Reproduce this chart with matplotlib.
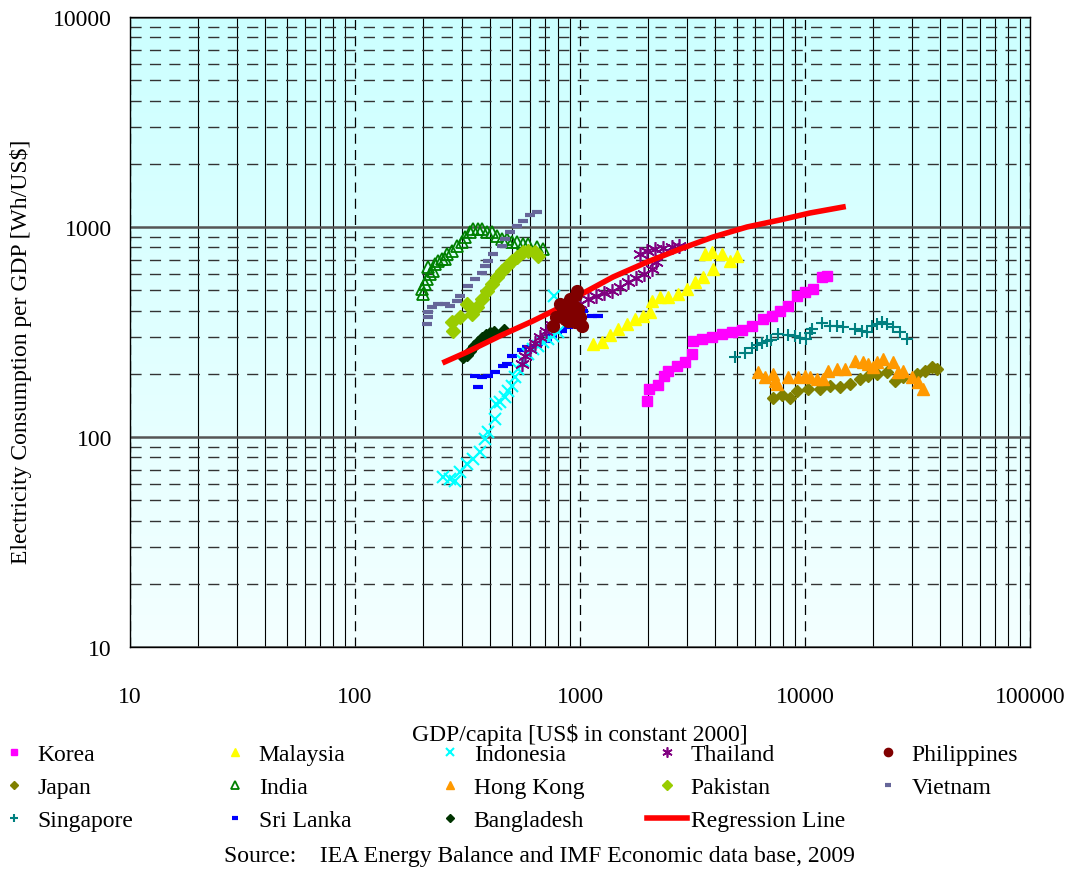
import matplotlib.pyplot as plt
import numpy as np
from matplotlib.colors import LinearSegmentedColormap
from matplotlib.ticker import LogLocator, NullFormatter, FixedLocator, FixedFormatter

plt.rcParams['font.family'] = ['Liberation Serif', 'DejaVu Serif']

# ---- data (GDP/capita, Wh/US$) ----
korea_x = [1990, 2030, 2220, 2360, 2460, 2700, 2930, 3150, 3180, 3490, 3860, 4280,
           4750, 5250, 5810, 6500, 7130, 7740, 8400, 9210, 10000, 10860, 11900, 12500]
korea_y = [148, 169, 177, 195, 206, 218, 228, 248, 286, 293, 299, 309,
           316, 323, 338, 365, 377, 398, 421, 469, 490, 507, 578, 585]

malaysia_x = [1140, 1250, 1360, 1480, 1620, 1760, 1900, 2050, 2090, 2270, 2460,
              2730, 2990, 3250, 3520, 3900, 3600, 3850, 4280, 4640, 4990]
malaysia_y = [277, 283, 306, 327, 345, 365, 377, 394, 444, 464, 464,
              480, 507, 548, 578, 631, 744, 760, 744, 689, 728]

indonesia_x = [246, 264, 278, 293, 315, 334, 359, 378, 390, 419, 425, 441, 464,
               479, 499, 514, 530, 558, 587, 618, 651, 685, 721, 759, 799, 766]
indonesia_y = [64.5, 63, 61.7, 68, 74, 78.5, 84.8, 97.8, 105.6, 122, 143.6, 147, 155,
               165, 175, 193, 211, 230, 248, 262, 271, 283, 293, 303, 316, 469]

thailand_x = [552, 570, 600, 631, 664, 706, 751, 799, 858, 921, 1000, 1086, 1178, 1279,
              1388, 1506, 1634, 1774, 1925, 2089, 2177, 1848, 1987, 2154, 2337, 2563, 2754]
thailand_y = [223, 243, 262, 280, 299, 320, 341, 365, 385, 407, 430, 454, 469, 485,
              496, 518, 547, 571, 597, 631, 681, 743, 769, 785, 794, 803, 812]

philippines_x = [759, 782, 815, 840, 858, 875, 903, 921, 940, 960, 970, 980, 1000, 1021, 885, 950]
philippines_y = [338, 373, 430, 398, 365, 416, 454, 385, 421, 474, 496, 407, 373, 338, 357, 353]

japan_x = [7210, 7910, 8580, 9210, 10310, 11660, 12920, 14320, 15850, 17550,
           19060, 20890, 23140, 25120, 27270, 31480, 34140, 36650, 38600]
japan_y = [153, 158, 153, 166, 169, 169, 175, 173, 179, 189,
           195, 200, 204, 185, 193, 200, 206, 215, 211]

india_x = [199, 201, 205, 209, 215, 211, 222, 227, 234, 244, 251, 256, 270, 284, 299, 308,
           325, 334, 352, 367, 386, 406, 428, 450, 474, 499, 525, 558, 587, 644, 685]
india_y = [507, 480, 535, 565, 597, 645, 617, 667, 689, 704, 704, 744, 769, 812, 849, 896,
           946, 978, 978, 978, 946, 946, 906, 877, 877, 849, 849, 830, 830, 803, 785]

hongkong_x = [6180, 6640, 7210, 7360, 7520, 8400, 9310, 10000, 10520, 11300, 12020, 12650, 13870,
              15060, 16680, 18110, 19060, 20060, 20890, 22220, 24600, 25880, 27270, 29900, 31750, 33440]
hongkong_y = [204, 193, 200, 185, 179, 193, 193, 195, 193, 189, 189, 206, 211,
              211, 230, 228, 223, 215, 228, 235, 228, 204, 206, 193, 183, 169]

pakistan_x = [273, 270, 293, 315, 331, 349, 367, 386, 406, 428, 450, 474, 499, 525, 558, 587, 631, 651]
pakistan_y = [320, 353, 373, 430, 385, 416, 454, 496, 535, 578, 617, 652, 689, 720, 760, 769, 760, 728]

vietnam_x = [209, 211, 211, 220, 234, 251, 264, 284, 293, 318, 342, 367, 378, 390, 411,
             450, 464, 489, 525, 558, 600, 644]
vietnam_y = [345, 373, 394, 416, 430, 430, 421, 444, 469, 524, 565, 604, 652, 689, 744,
             812, 877, 946, 1011, 1068, 1141, 1178]

singapore_x = [4887, 5414, 5810, 6115, 6440, 6775, 7060, 7590, 8400, 9030, 9490, 10100, 10520, 10740,
               11900, 12920, 13870, 14750, 16680, 17920, 18870, 19870, 20900, 21990, 23140, 24600, 26430, 28400]
singapore_y = [241, 251, 265, 274, 280, 286, 290, 309, 306, 303, 296, 293, 313, 327,
               349, 338, 338, 334, 327, 320, 316, 338, 345, 353, 345, 334, 316, 293]

srilanka_x = [352, 342, 367, 390, 419, 455, 474, 499, 552, 581, 618, 651, 713, 751,
              791, 832, 885, 950, 1000, 1031, 1130, 1202]
srilanka_y = [173, 195, 193, 195, 204, 218, 223, 243, 260, 268, 271, 277, 286, 303,
              316, 320, 334, 353, 365, 398, 377, 377]

bangladesh_x = [302, 315, 325, 338, 352, 367, 382, 398, 415, 459]
bangladesh_y = [241, 246, 257, 271, 283, 296, 306, 313, 316, 323]

regression_x = [251, 315, 441, 618, 791, 1000, 1402, 1986, 2782, 3900, 5520, 7740, 10520, 14760]
regression_y = [228, 254, 303, 357, 407, 475, 578, 681, 785, 896, 1000, 1080, 1166, 1245]

x_ticks = [10, 100, 1000, 10000, 100000]
y_ticks = [10, 100, 1000, 10000]

FS = 17

fig = plt.figure(figsize=(10.7, 8.7), dpi=100)
rect = [130 / 1070, 1 - 648 / 870, 900 / 1070, 630 / 870]

# gradient background behind the plot area
bg = fig.add_axes(rect, zorder=0)
cmap = LinearSegmentedColormap.from_list('bg', ['#ccffff', '#f4ffff'])
bg.imshow(np.linspace(0, 1, 256).reshape(-1, 1), cmap=cmap, aspect='auto', extent=(0, 1, 0, 1))
bg.axis('off')

ax = fig.add_axes(rect, zorder=1)
ax.patch.set_alpha(0)
ax.set_xscale('log')
ax.set_yscale('log')
ax.set_xlim(10, 100000)
ax.set_ylim(10, 10000)

# series: (label, x, y, style)
series = [
    ('Korea', korea_x, korea_y, dict(marker='s', color='#ff00ff', ms=7)),
    ('Japan', japan_x, japan_y, dict(marker='D', color='#808000', ms=6.5)),
    ('Singapore', singapore_x, singapore_y, dict(marker='+', color='#008080', ms=9, mew=1.5)),
    ('Malaysia', malaysia_x, malaysia_y, dict(marker='^', color='#ffff00', ms=8.5)),
    ('India', india_x, india_y, dict(marker='^', color='#008000', mfc='none', ms=8.5, mew=1.3)),
    ('Sri Lanka', srilanka_x, srilanka_y, dict(marker='_', color='#0000ff', ms=7, mew=3)),
    ('Indonesia', indonesia_x, indonesia_y, dict(marker='x', color='#00ffff', ms=8, mew=1.5)),
    ('Hong Kong', hongkong_x, hongkong_y, dict(marker='^', color='#ff9900', ms=8.5)),
    ('Bangladesh', bangladesh_x, bangladesh_y, dict(marker='D', color='#003300', ms=6)),
    ('Thailand', thailand_x, thailand_y, dict(marker=(6, 2, 0), color='#800080', ms=10.5, mew=1.2)),
    ('Pakistan', pakistan_x, pakistan_y, dict(marker='D', color='#99cc00', ms=7.5)),
]
handles = {}
for name, xs, ys, st in series:
    h, = ax.plot(xs, ys, ls='none', zorder=3, **st)
    handles[name] = h

h, = ax.plot(regression_x, regression_y, color='#ff0000', lw=4, zorder=4)
handles['Regression Line'] = h
h, = ax.plot(vietnam_x, vietnam_y, ls='none', marker='_', color='#666699', ms=7, mew=3, zorder=3)
handles['Vietnam'] = h
h, = ax.plot(philippines_x, philippines_y, ls='none', marker='o', color='#800000', ms=8.5, zorder=5)
handles['Philippines'] = h

# grid: Excel-like styles
ax.xaxis.set_minor_locator(LogLocator(base=10, subs=np.arange(2, 10)))
ax.yaxis.set_minor_locator(LogLocator(base=10, subs=np.arange(2, 10)))
ax.xaxis.set_minor_formatter(NullFormatter())
ax.yaxis.set_minor_formatter(NullFormatter())
ax.grid(which='major', axis='x', color='black', lw=0.9, ls=(0, (8, 5)))
ax.grid(which='minor', axis='x', color='black', lw=0.8, ls='-')
ax.grid(which='major', axis='y', color='#555555', lw=1.8, ls='-')
ax.grid(which='minor', axis='y', color='#333333', lw=1.0, ls=(0, (8, 6)))
ax.set_axisbelow(True)

ax.xaxis.set_major_locator(FixedLocator(x_ticks))
ax.xaxis.set_major_formatter(FixedFormatter([str(v) for v in x_ticks]))
ax.yaxis.set_major_locator(FixedLocator(y_ticks))
ax.yaxis.set_major_formatter(FixedFormatter([str(v) for v in y_ticks]))
ax.tick_params(which='both', length=0, labelsize=FS)
ax.tick_params(axis='x', pad=28)
ax.tick_params(axis='y', pad=13)
for s in ax.spines.values():
    s.set_color('black')
    s.set_linewidth(1)

ax.set_xlabel('GDP/capita [US$ in constant 2000]', fontsize=FS, va='center')
ax.xaxis.set_label_coords(0.5, -(735 - 648) / 630)
ax.set_ylabel('Electricity Consumption per GDP [Wh/US$]', fontsize=FS, va='center')
ax.yaxis.set_label_coords(-(130 - 21) / 900, (648 - 352) / 630)

# legend laid out row-wise in five columns
legend_rows = [
    ['Korea', 'Malaysia', 'Indonesia', 'Thailand', 'Philippines'],
    ['Japan', 'India', 'Hong Kong', 'Pakistan', 'Vietnam'],
    ['Singapore', 'Sri Lanka', 'Bangladesh', 'Regression Line'],
]
col_px = [-6, 215, 430, 647, 868]
row_px = [755, 788, 821]
for r, names in enumerate(legend_rows):
    for c, name in enumerate(names):
        fig.legend([handles[name]], [name], loc='center left',
                   bbox_to_anchor=(col_px[c] / 1070, 1 - row_px[r] / 870),
                   frameon=False, fontsize=FS, borderpad=0, borderaxespad=0,
                   handlelength=1.7, handletextpad=0.15, markerscale=0.7)

fig.text(539 / 1070, 1 - 857 / 870,
         'Source:    IEA Energy Balance and IMF Economic data base, 2009',
         ha='center', va='center', fontsize=FS)

fig.savefig('out.png', dpi=100)
